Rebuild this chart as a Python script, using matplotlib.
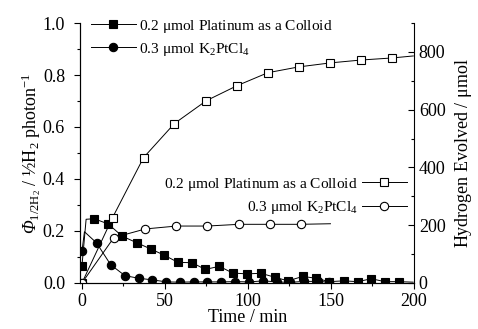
import numpy as np
import matplotlib
matplotlib.use("Agg")
import matplotlib.pyplot as plt
from matplotlib.lines import Line2D
from matplotlib.ticker import MultipleLocator

plt.rcParams['font.family'] = ['Liberation Serif', 'DejaVu Serif']
plt.rcParams['mathtext.fontset'] = 'custom'
plt.rcParams['mathtext.rm'] = 'Liberation Serif'
plt.rcParams['mathtext.it'] = 'Liberation Serif:italic'
plt.rcParams['mathtext.bf'] = 'Liberation Serif:bold'
plt.rcParams['mathtext.sf'] = 'Liberation Serif:italic'

# quantum yield, colloid (filled squares); index 1 and last are line-only points
t_qy_col = [0, 2.5, 7.4, 15.8, 24.2, 32.9, 41.3, 49.5, 57.9, 66.3, 74.3, 82.8, 90.8, 99.2,
            107.8, 116.2, 124.1, 133, 141, 149, 157.7, 166, 174.4, 182.4, 191, 199.5]
qy_col = [0.066, 0.245, 0.247, 0.227, 0.18, 0.155, 0.131, 0.107, 0.079, 0.078, 0.052, 0.064,
          0.038, 0.035, 0.037, 0.022, 0.008, 0.025, 0.018, 0.005, 0.008, 0.005, 0.016,
          0.005, 0.005, 0.003]

# quantum yield, K2PtCl4 (filled circles); index 1 is line-only
t_qy_k2 = [0, 1.5, 8.8, 17.3, 25.9, 34.2, 42.2, 50.9, 58.9, 67.3, 75.3, 83.9, 92.2, 100.8,
           109.2, 117.6, 125.1, 133.7, 142, 149]
qy_k2 = [0.122, 0.197, 0.154, 0.07, 0.028, 0.018, 0.012, 0.004, 0.003, 0.004, 0.004, 0.004,
         0.005, 0.004, 0.008, 0.004, 0.002, 0.006, 0.006, 0.003]

# hydrogen evolved (right axis); last points are line-only
t_h2_col = [0, 18.4, 37.1, 55.7, 74.9, 93.4, 112, 130.5, 149.7, 168.3, 186.8, 199.6]
h2_col = [0, 226, 434, 552, 631, 683, 728, 748, 762, 772, 779, 786]
t_h2_k2 = [0, 19.2, 38.2, 56.9, 75.4, 94.6, 113, 131.7, 149.7]
h2_k2 = [0, 157, 187, 197, 197, 203, 203, 203, 205]

lab_col = r'0.2 $\mathrm{\mu}$mol Platinum as a Colloid'
lab_k2 = r'0.3 $\mathrm{\mu}$mol K$_2$PtCl$_4$'

fig = plt.figure(figsize=(4.78, 3.29), dpi=100)
ax = fig.add_axes([0.168, 0.14, 0.698, 0.79])
ax2 = ax.twinx()

lw = 0.7
ms = 6
kw = dict(color='black', lw=lw, ms=ms, mec='black', mew=0.8)

ax.plot(t_qy_col, qy_col, marker='s', mfc='black',
        markevery=[0] + list(range(2, len(t_qy_col) - 1)), **kw)
ax.plot(t_qy_k2, qy_k2, marker='o', mfc='black',
        markevery=[0] + list(range(2, len(t_qy_k2))), **kw)
ax2.plot(t_h2_col, h2_col, marker='s', mfc='white',
         markevery=list(range(len(t_h2_col) - 1)), **kw)
ax2.plot(t_h2_k2, h2_k2, marker='o', mfc='white',
         markevery=list(range(len(t_h2_k2) - 1)), **kw)

ax.set_xlim(-1, 200)
ax.set_ylim(0, 1.0)
ax2.set_ylim(0, 900)

ax.xaxis.set_major_locator(MultipleLocator(50))
ax.xaxis.set_minor_locator(MultipleLocator(25))
ax.yaxis.set_major_locator(MultipleLocator(0.2))
ax.yaxis.set_minor_locator(MultipleLocator(0.1))
ax2.yaxis.set_major_locator(MultipleLocator(200))
ax2.yaxis.set_minor_locator(MultipleLocator(100))
ax.yaxis.set_major_formatter(matplotlib.ticker.FormatStrFormatter('%.1f'))

for a in (ax, ax2):
    a.spines['top'].set_visible(False)
    for s in a.spines.values():
        s.set_linewidth(0.8)
ax.spines['right'].set_visible(False)

ax.tick_params(axis='both', which='both', direction='out', labelsize=13, width=0.8)
ax.tick_params(which='major', length=4)
ax.tick_params(which='minor', length=2.5)
ax.tick_params(axis='y', which='major', pad=7)
ax2.tick_params(axis='y', which='both', direction='in', labelsize=13, width=0.8)
ax2.tick_params(which='major', length=4)
ax2.tick_params(which='minor', length=2.5)

ax.set_xlabel('Time / min', fontsize=13, labelpad=-1)
ax.set_ylabel(r'$\mathsf{\Phi}_{1/2\mathrm{H}_2}$ / ½H$_2$ photon$^{-1}$', fontsize=13,
              labelpad=0)
ax2.set_ylabel(r'Hydrogen Evolved / $\mathrm{\mu}$mol', fontsize=13, labelpad=5)

h1 = Line2D([], [], marker='s', mfc='black', **kw)
h2 = Line2D([], [], marker='o', mfc='black', **kw)
h3 = Line2D([], [], marker='s', mfc='white', **kw)
h4 = Line2D([], [], marker='o', mfc='white', **kw)

leg1 = ax2.legend([h1, h2], [lab_col, lab_k2], loc='upper left', bbox_to_anchor=(0.0, 1.062),
                  frameon=False, fontsize=11.1, handlelength=2.9, handletextpad=0.2,
                  labelspacing=0.4, borderaxespad=0.3)
ax2.add_artist(leg1)
ax2.legend([h3, h4], [lab_col, lab_k2], loc='center right', bbox_to_anchor=(1.02, 0.335),
           frameon=False, fontsize=11.1, handlelength=2.9, handletextpad=0.3,
           labelspacing=0.4, markerfirst=False)

fig.savefig('out.png', dpi=100)
